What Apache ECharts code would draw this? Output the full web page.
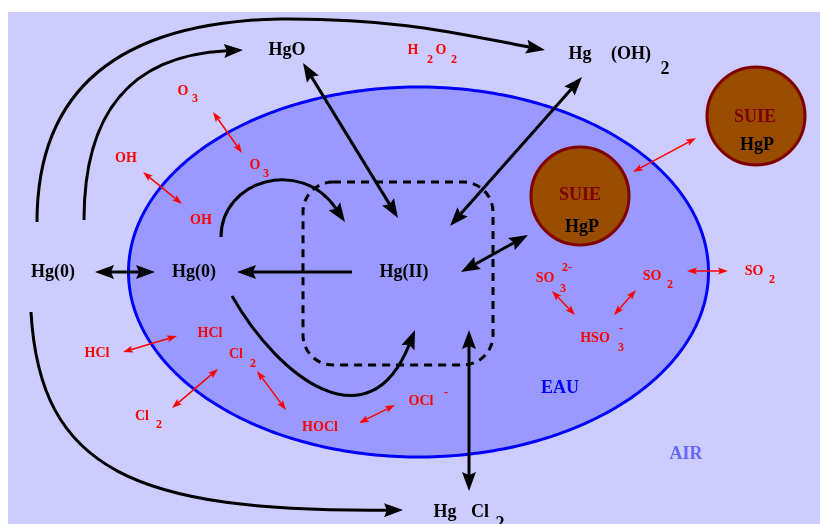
<!DOCTYPE html>
<html><head><meta charset="utf-8">
<script src="https://cdn.jsdelivr.net/npm/echarts@6/dist/echarts.min.js"></script>
<style>html,body{margin:0;padding:0;background:#fff}#c{width:820px;height:524px}</style>
</head><body><div id="c"></div>
<script>
// ---- diagram data (coordinates in the diagram's own 820 x 524 plane) ----
const airPanel = [8, 12, 820, 524];
const waterDrop = [418.5, 272, 290, 185];          // cx, cy, rx, ry
const reactionBox = [303, 182, 493, 365];          // x0, y0, x1, y1
const sootParticles = [[580, 196], [756, 116]];

const speciesLabels = [
  ['HgO', 287, 50], ['Hg', 580, 54], ['(OH)', 631, 54], ['2', 665, 69],
  ['Hg(0)', 53, 272], ['Hg(0)', 194, 272], ['Hg(II)', 404, 272],
  ['Hg', 445, 512], ['Cl', 480, 512], ['2', 500, 524]
];
const sootNames = [['SUIE', 580, 195], ['SUIE', 755, 117]];
const sootMercury = [['HgP', 582, 227], ['HgP', 757, 145]];
const reactantLabels = [
  ['O', 183, 91], ['O', 255, 165], ['OH', 126, 158], ['OH', 201, 220],
  ['H', 413, 50], ['O', 441, 50], ['SO', 545, 278], ['SO', 652, 276],
  ['SO', 754, 271], ['HSO', 595, 338], ['HCl', 97, 353], ['HCl', 210, 333],
  ['Cl', 236, 354], ['Cl', 142, 416], ['HOCl', 320, 427], ['OCl', 421, 401]
];
const reactantSubs = [
  ['3', 195, 99], ['3', 266, 174], ['2', 430, 60], ['2', 454, 60],
  ['3', 563, 289], ['2-', 567, 268], ['2', 670, 285], ['2', 772, 280],
  ['3', 621, 348], ['-', 621, 329], ['2', 253, 364], ['2', 159, 425], ['-', 446, 393]
];
const waterLabel = [['EAU', 560, 388]];
const airLabel = [['AIR', 686, 454]];

// straight black arrows: x0, y0, x1, y1, heads (1 = end only, 2 = both)
const blackArrows = [
  [95, 272, 155, 272, 2],
  [352, 272, 237, 272, 1],
  [303, 63, 398, 218, 2],
  [582, 77, 450, 226, 2],
  [461, 272, 528, 235, 2],
  [469, 330, 469, 491, 2]
];
// curved black arrows: cubic Bezier chains, head at the last point
const curvedArrows = [
  [[37, 222], [37, 80], [130, 22], [280, 19], [400, 18], [480, 38], [545, 50]],
  [[84, 220], [84, 120], [140, 55], [243, 50]],
  [[31, 312], [40, 470], [150, 512], [403, 510]],
  [[221, 237], [221, 180], [310, 170], [345, 222]],
  [[232, 296], [280, 380], [375, 430], [415, 330]]
];
// red exchange arrows (both heads)
const exchangeArrows = [
  [213, 112, 242, 153], [143, 172, 182, 204], [633, 172, 696, 138],
  [687, 271, 728, 271], [552, 291, 575, 315], [614, 315, 636, 290],
  [123, 352, 177, 336], [172, 408, 218, 369], [257, 371, 286, 410],
  [359, 423, 395, 405]
];

// ---- drawing helpers ----
const SERIF = '"Liberation Serif", "DejaVu Serif", serif';
function head(tip, ux, uy, len, hw, notch, color) {
  const nx = -uy, ny = ux;
  const bx = tip[0] - ux * len, by = tip[1] - uy * len;
  return {
    type: 'polygon',
    shape: { points: [tip, [bx + nx * hw, by + ny * hw], [tip[0] - ux * (len - notch), tip[1] - uy * (len - notch)], [bx - nx * hw, by - ny * hw]] },
    style: { fill: color }
  };
}
function straightRender(rows, color, lw, len, hw, notch) {
  return function (params, api) {
    const r = rows[params.dataIndex];
    const a = api.coord([r[0], r[1]]), b = api.coord([r[2], r[3]]);
    const both = r[4] === undefined || r[4] === 2;
    const dx = b[0] - a[0], dy = b[1] - a[1], d = Math.hypot(dx, dy), ux = dx / d, uy = dy / d;
    const k = len - notch;
    const s = both ? [a[0] + ux * k, a[1] + uy * k] : a;
    const e = [b[0] - ux * k, b[1] - uy * k];
    const children = [{ type: 'line', shape: { x1: s[0], y1: s[1], x2: e[0], y2: e[1] }, style: { stroke: color, lineWidth: lw } },
      head(b, ux, uy, len, hw, notch, color)];
    if (both) children.push(head(a, -ux, -uy, len, hw, notch, color));
    return { type: 'group', children };
  };
}
function curveRender(params, api) {
  const P = curvedArrows[params.dataIndex].map(p => api.coord(p));
  const n = P.length;
  const tip = P[n - 1];
  const dx = tip[0] - P[n - 2][0], dy = tip[1] - P[n - 2][1], d = Math.hypot(dx, dy);
  const ux = dx / d, uy = dy / d, len = 19, hw = 7, notch = 3, k = len - notch;
  const Q = P.slice();
  Q[n - 1] = [tip[0] - ux * k, tip[1] - uy * k];
  Q[n - 2] = [P[n - 2][0] - ux * k, P[n - 2][1] - uy * k];
  const children = [];
  for (let i = 0; i + 3 < n; i += 3) {
    children.push({ type: 'bezierCurve', shape: { x1: Q[i][0], y1: Q[i][1], cpx1: Q[i + 1][0], cpy1: Q[i + 1][1], cpx2: Q[i + 2][0], cpy2: Q[i + 2][1], x2: Q[i + 3][0], y2: Q[i + 3][1] }, style: { stroke: '#000', lineWidth: 3, fill: null } });
  }
  children.push(head(tip, ux, uy, len, hw, notch, '#000'));
  return { type: 'group', children };
}
function textRender(rows, color, size) {
  return function (params, api) {
    const r = rows[params.dataIndex];
    const p = api.coord([r[1], r[2]]);
    return { type: 'text', x: p[0], y: p[1], style: { text: r[0], fill: color, font: 'bold ' + size + 'px ' + SERIF, align: 'center', verticalAlign: 'middle' } };
  };
}
function idx(rows) { return rows.map(() => [0, 0]); }
function custom(rows, renderItem) {
  return { type: 'custom', coordinateSystem: 'cartesian2d', data: idx(rows), renderItem, silent: true, clip: false };
}

const series = [
  custom([airPanel], function (params, api) {
    const a = api.coord([airPanel[0], airPanel[1]]), b = api.coord([airPanel[2], airPanel[3]]);
    return { type: 'rect', shape: { x: a[0], y: a[1], width: b[0] - a[0], height: b[1] - a[1] }, style: { fill: '#ccccff' } };
  }),
  custom([waterDrop], function (params, api) {
    const [cx, cy, rx, ry] = waterDrop, pts = [];
    for (let i = 0; i < 360; i++) { const t = i * Math.PI / 180; pts.push(api.coord([cx + rx * Math.cos(t), cy + ry * Math.sin(t)])); }
    return { type: 'polygon', shape: { points: pts }, style: { fill: '#9999ff', stroke: '#0000ff', lineWidth: 3 } };
  }),
  custom([reactionBox], function (params, api) {
    const a = api.coord([reactionBox[0], reactionBox[1]]), b = api.coord([reactionBox[2], reactionBox[3]]);
    return { type: 'rect', shape: { x: a[0], y: a[1], width: b[0] - a[0], height: b[1] - a[1], r: 30 }, style: { fill: null, stroke: '#000', lineWidth: 3, lineDash: [8, 6] } };
  }),
  custom(sootParticles, function (params, api) {
    const c = api.coord(sootParticles[params.dataIndex]);
    const rr = api.size([49, 0])[0];
    return { type: 'circle', shape: { cx: c[0], cy: c[1], r: rr }, style: { fill: '#994c00', stroke: '#800000', lineWidth: 3 } };
  }),
  custom(blackArrows, straightRender(blackArrows, '#000', 3, 19, 7, 3)),
  custom(curvedArrows, curveRender),
  custom(exchangeArrows, straightRender(exchangeArrows, '#ff0000', 1.5, 10, 3.5, 2)),
  custom(speciesLabels, textRender(speciesLabels, '#000', 18)),
  custom(sootNames, textRender(sootNames, '#800000', 18)),
  custom(sootMercury, textRender(sootMercury, '#000', 18)),
  custom(reactantLabels, textRender(reactantLabels, '#ff0000', 14)),
  custom(reactantSubs, textRender(reactantSubs, '#ff0000', 12)),
  custom(waterLabel, textRender(waterLabel, '#0000ff', 18)),
  custom(airLabel, textRender(airLabel, '#6666ff', 18))
];

const chart = echarts.init(document.getElementById('c'), null, { renderer: 'canvas' });
chart.setOption({
  animation: false,
  backgroundColor: '#ffffff',
  grid: { left: 0, right: 0, top: 0, bottom: 0 },
  xAxis: { type: 'value', min: 0, max: 820, show: false },
  yAxis: { type: 'value', min: 0, max: 524, inverse: true, show: false },
  series
});
</script></body></html>
